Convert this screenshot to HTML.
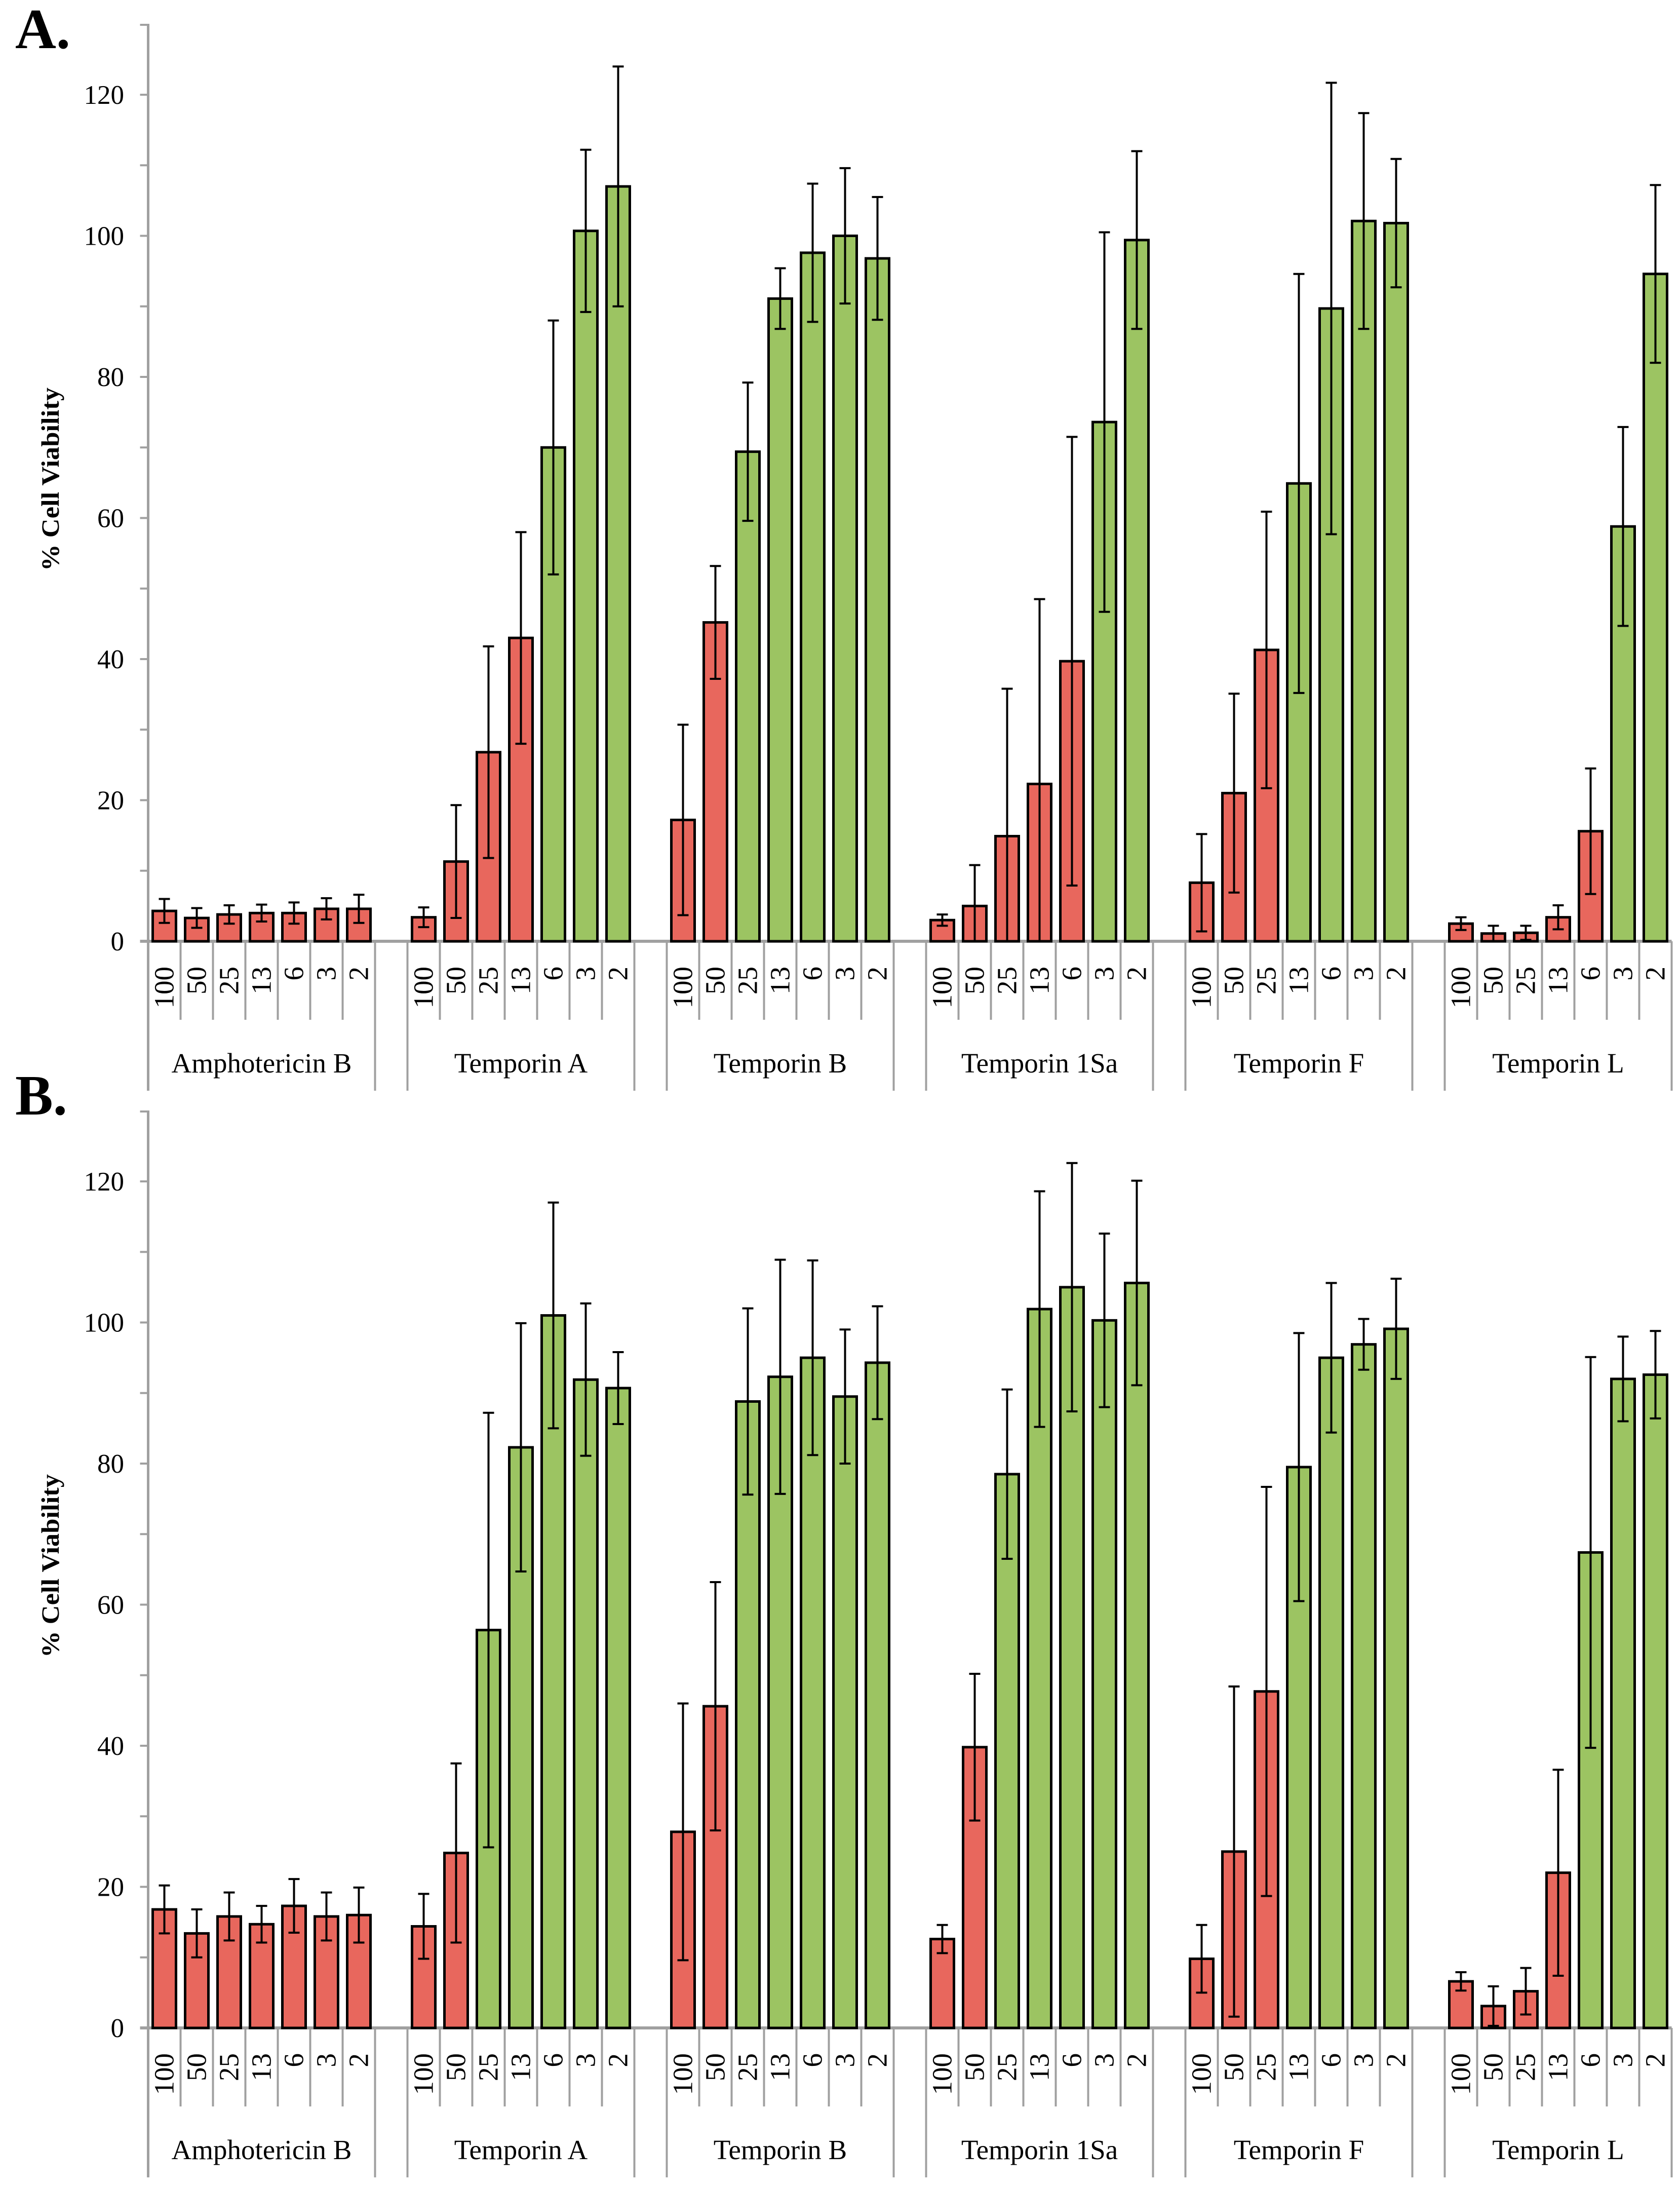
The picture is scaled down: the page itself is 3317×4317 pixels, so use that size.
<!DOCTYPE html>
<html><head><meta charset="utf-8"><style>
html,body{margin:0;padding:0;background:#fff}
svg{display:block;font-family:"Liberation Serif",serif}
</style></head><body>
<svg id="c" width="3317" height="4317" viewBox="0 0 3317 4317" xmlns="http://www.w3.org/2000/svg">
<rect width="3317" height="4317" fill="#fff"/>
</svg>
<script>
const groups = ["Amphotericin B","Temporin A","Temporin B","Temporin 1Sa","Temporin F","Temporin L"];
const concs = ["100","50","25","13","6","3","2"];
const yTicks = [0,20,40,60,80,100,120];
const valuesA = [4.3,3.3,3.8,4.0,4.0,4.6,4.6, 3.4,11.3,26.8,43,70,100.7,107, 17.2,45.2,69.4,91.1,97.6,100,96.8, 3.0,5.0,14.9,22.3,39.7,73.6,99.4, 8.3,21.0,41.3,64.9,89.7,102.1,101.8, 2.5,1.1,1.2,3.4,15.6,58.8,94.6];
const errorsA = [1.7,1.4,1.3,1.2,1.5,1.5,2.0, 1.4,8,15,15,18,11.5,17, 13.5,8,9.8,4.3,9.8,9.6,8.7, 0.8,5.8,20.9,26.2,31.8,26.9,12.6, 6.9,14.1,19.6,29.7,32,15.3,9.1, 0.9,1.1,1.0,1.7,8.9,14.1,12.6];
const toxicA = [1,1,1,1,1,1,1, 1,1,1,1,0,0,0, 1,1,0,0,0,0,0, 1,1,1,1,1,0,0, 1,1,1,0,0,0,0, 1,1,1,1,1,0,0];
const valuesB = [16.8,13.4,15.8,14.7,17.3,15.8,16.0, 14.4,24.8,56.4,82.3,101,91.9,90.7, 27.8,45.6,88.8,92.3,95,89.5,94.3, 12.6,39.8,78.5,101.9,105,100.3,105.6, 9.8,25,47.7,79.5,95,96.9,99.1, 6.6,3.1,5.2,22,67.4,92,92.6];
const errorsB = [3.4,3.4,3.4,2.6,3.8,3.4,3.9, 4.6,12.7,30.8,17.6,16,10.8,5.1, 18.2,17.6,13.2,16.6,13.8,9.5,8, 2,10.4,12,16.7,17.6,12.3,14.5, 4.8,23.4,29,19,10.6,3.6,7.1, 1.3,2.8,3.3,14.6,27.7,6,6.2];
const toxicB = [1,1,1,1,1,1,1, 1,1,0,0,0,0,0, 1,1,0,0,0,0,0, 1,1,0,0,0,0,0, 1,1,1,0,0,0,0, 1,1,1,1,0,0,0];

const NS="http://www.w3.org/2000/svg";
const svg=document.getElementById('c');
function el(tag,attrs,parent){const e=document.createElementNS(NS,tag);for(const k in attrs)e.setAttribute(k,attrs[k]);(parent||svg).appendChild(e);return e;}
const X0=292.5, SLOT=64, NSLOT=47, X1=X0+NSLOT*SLOT, BW=46;
function xSlot(i){return X0+i*SLOT;}

function drawChart(letter, y0, values, errors, toxic, letterY){
  const unit=(1858-187)/120;
  const yTop=y0-1811;
  const yS=v=>y0-v*unit;
  const g=el('g',{});
  
  
  const L=el('text',{x:30,y:letterY,'font-size':112,'font-weight':'bold'},g);
  L.textContent=letter+'.';
  
  
  const t=el('text',{x:0,y:0,'font-size':50,'font-weight':'bold','text-anchor':'middle',textLength:362,lengthAdjust:'spacingAndGlyphs',transform:`translate(116,${y0-912}) rotate(-90)`},g);
  t.textContent='% Cell Viability';
  
  
  const ax=el('line',{x1:X0,y1:yTop,x2:X0,y2:y0+295,stroke:'#a0a0a0','stroke-width':5},g);
  
  
  for(let v=0;v<=130;v+=10){
    const yy=v===130?yTop+2:yS(v);
    el('line',{x1:X0-16,y1:yy,x2:X0,y2:yy,stroke:'#a0a0a0','stroke-width':4},g);
  }
  yTicks.forEach(v=>{
    const tl=el('text',{x:245,y:yS(v)+18,'font-size':53,'text-anchor':'end'},g);
    tl.textContent=v;
    
    
  });
  const xa=el('line',{x1:X0-16,y1:y0,x2:X1,y2:y0,stroke:'#a0a0a0','stroke-width':6},g);
  
  
  for(let s=1;s<=NSLOT;s++){
    const pos=s%8;
    const long=(pos===0||pos===7);
    el('line',{x1:xSlot(s),y1:y0,x2:xSlot(s),y2:y0+(long?295:155),stroke:'#a0a0a0','stroke-width':4},g);
  }
  groups.forEach((name,gi)=>{
    const gl=el('text',{x:xSlot(gi*8+3.5),y:y0+259,'font-size':55,'text-anchor':'middle'},g);
    gl.textContent=name;
    
    
    concs.forEach((c,ci)=>{
      const cx=xSlot(gi*8+ci+0.5);
      const nl=el('text',{x:0,y:0,'font-size':55,'text-anchor':'end',transform:`translate(${cx+18},${y0+50}) rotate(-90)`},g);
      nl.textContent=c;
      
      
      const i=gi*7+ci;
      const v=values[i], e=errors[i];
      const top=yS(v);
      const b=el('rect',{x:cx-BW/2,y:top,width:BW,height:y0-top,fill:toxic[i]?'#e8675d':'#9cc462',stroke:'#000','stroke-width':5},g);
      
      
      const eg=el('g',{stroke:'#000','stroke-width':4},g);
      
      
      el('line',{x1:cx,y1:yS(v+e),x2:cx,y2:yS(Math.max(0,v-e))},eg);
      el('line',{x1:cx-11,y1:yS(v+e),x2:cx+11,y2:yS(v+e)},eg);
      el('line',{x1:cx-11,y1:yS(Math.max(0,v-e)),x2:cx+11,y2:yS(Math.max(0,v-e))},eg);
    });
  });
}
drawChart('A',1858,valuesA,errorsA,toxicA,95);
drawChart('B',4003,valuesB,errorsB,toxicB,2200);
</script>
</body></html>
